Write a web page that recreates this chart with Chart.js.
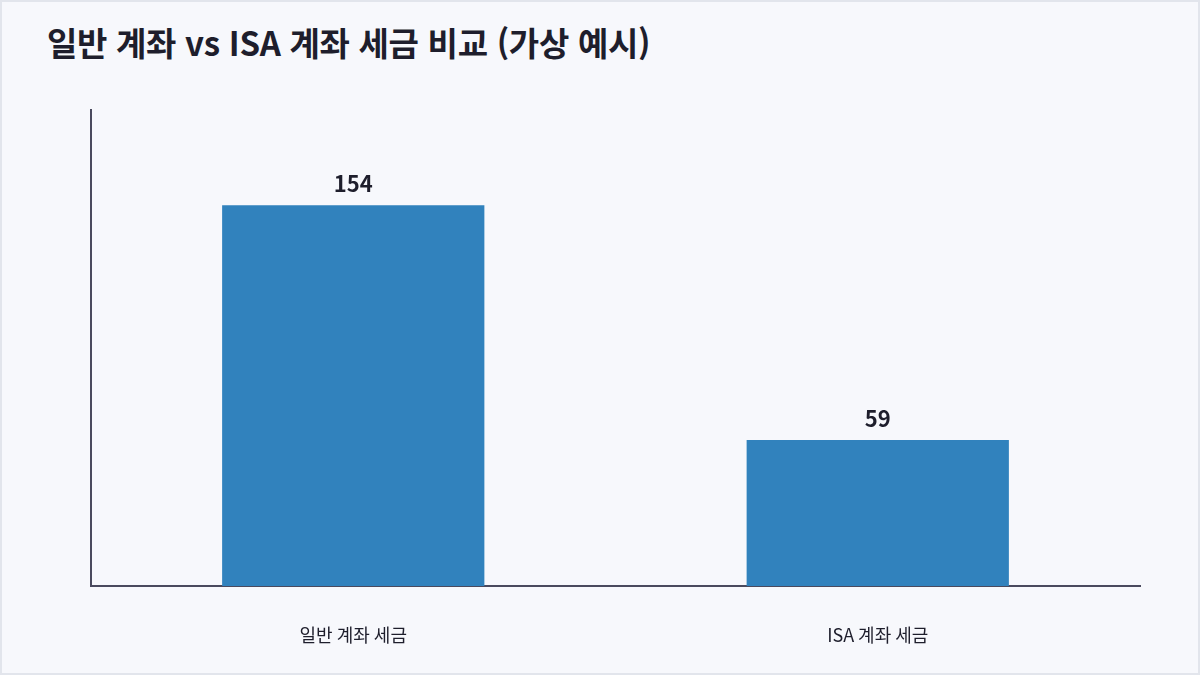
<!DOCTYPE html>
<html lang="ko">
<head>
    <meta charset="UTF-8">
    <title>일반 계좌 vs ISA 계좌 세금 비교</title>
    <script src="https://cdn.jsdelivr.net/npm/chart.js"></script>
    <style>
        html, body {
            margin: 0;
            padding: 0;
        }
        #frame {
            position: relative;
            width: 1200px;
            height: 675px;
            box-sizing: border-box;
            border: 2px solid #e2e5ec;
            background-color: #f7f8fc;
            overflow: hidden;
        }
        #title {
            position: absolute;
            left: 45px;
            top: 16px;
            margin: 0;
            font-family: "Noto Sans CJK KR", "Noto Sans", sans-serif;
            font-weight: 700;
            font-size: 33px;
            letter-spacing: -0.3px;
            color: #1e1e2c;
        }
        #chart-box {
            position: absolute;
            left: -2px;
            top: -2px;
            width: 1200px;
            height: 675px;
        }
    </style>
</head>
<body>
    <div id="frame">
        <h1 id="title">일반 계좌 vs ISA 계좌 세금 비교 (가상 예시)</h1>
        <div id="chart-box">
            <canvas id="taxChart" width="1200" height="675"></canvas>
        </div>
    </div>

    <script>
        var categories = ['일반 계좌 세금', 'ISA 계좌 세금'];
        var taxValues = [154, 59];
        var yMax = 192.5;

        var axisColor = '#4a4a5e';
        var fontFamily = '"Noto Sans CJK KR", "Noto Sans", sans-serif';

        // draws the value above each bar
        var valueLabels = {
            id: 'valueLabels',
            afterDatasetsDraw: function(chart) {
                var ctx = chart.ctx;
                var meta = chart.getDatasetMeta(0);
                ctx.save();
                ctx.font = 'bold 22px ' + fontFamily;
                ctx.fillStyle = '#1e1e2c';
                ctx.textAlign = 'center';
                ctx.textBaseline = 'alphabetic';
                meta.data.forEach(function(bar, i) {
                    ctx.fillText(String(taxValues[i]), bar.x, bar.y - 13);
                });
                ctx.restore();
            }
        };

        var ctx = document.getElementById('taxChart').getContext('2d');
        var taxChart = new Chart(ctx, {
            type: 'bar',
            data: {
                labels: categories,
                datasets: [{
                    data: taxValues,
                    backgroundColor: '#3182bd',
                    borderWidth: 0,
                    barPercentage: 0.5,
                    categoryPercentage: 1.0
                }]
            },
            options: {
                responsive: false,
                animation: false,
                devicePixelRatio: 1,
                layout: {
                    padding: { top: 110, left: 91, right: 60, bottom: 0 }
                },
                plugins: {
                    legend: { display: false },
                    tooltip: { enabled: false }
                },
                scales: {
                    x: {
                        grid: { display: false },
                        border: { display: true, color: axisColor, width: 2 },
                        ticks: {
                            color: '#1e1e2c',
                            padding: 30,
                            font: { family: fontFamily, size: 18 }
                        },
                        afterFit: function(axis) { axis.height = 89; }
                    },
                    y: {
                        min: 0,
                        max: yMax,
                        grid: { display: false },
                        border: { display: true, color: axisColor, width: 2 },
                        ticks: { display: false },
                        afterFit: function(axis) { axis.width = 0; }
                    }
                }
            },
            plugins: [valueLabels]
        });
    </script>
</body>
</html>
